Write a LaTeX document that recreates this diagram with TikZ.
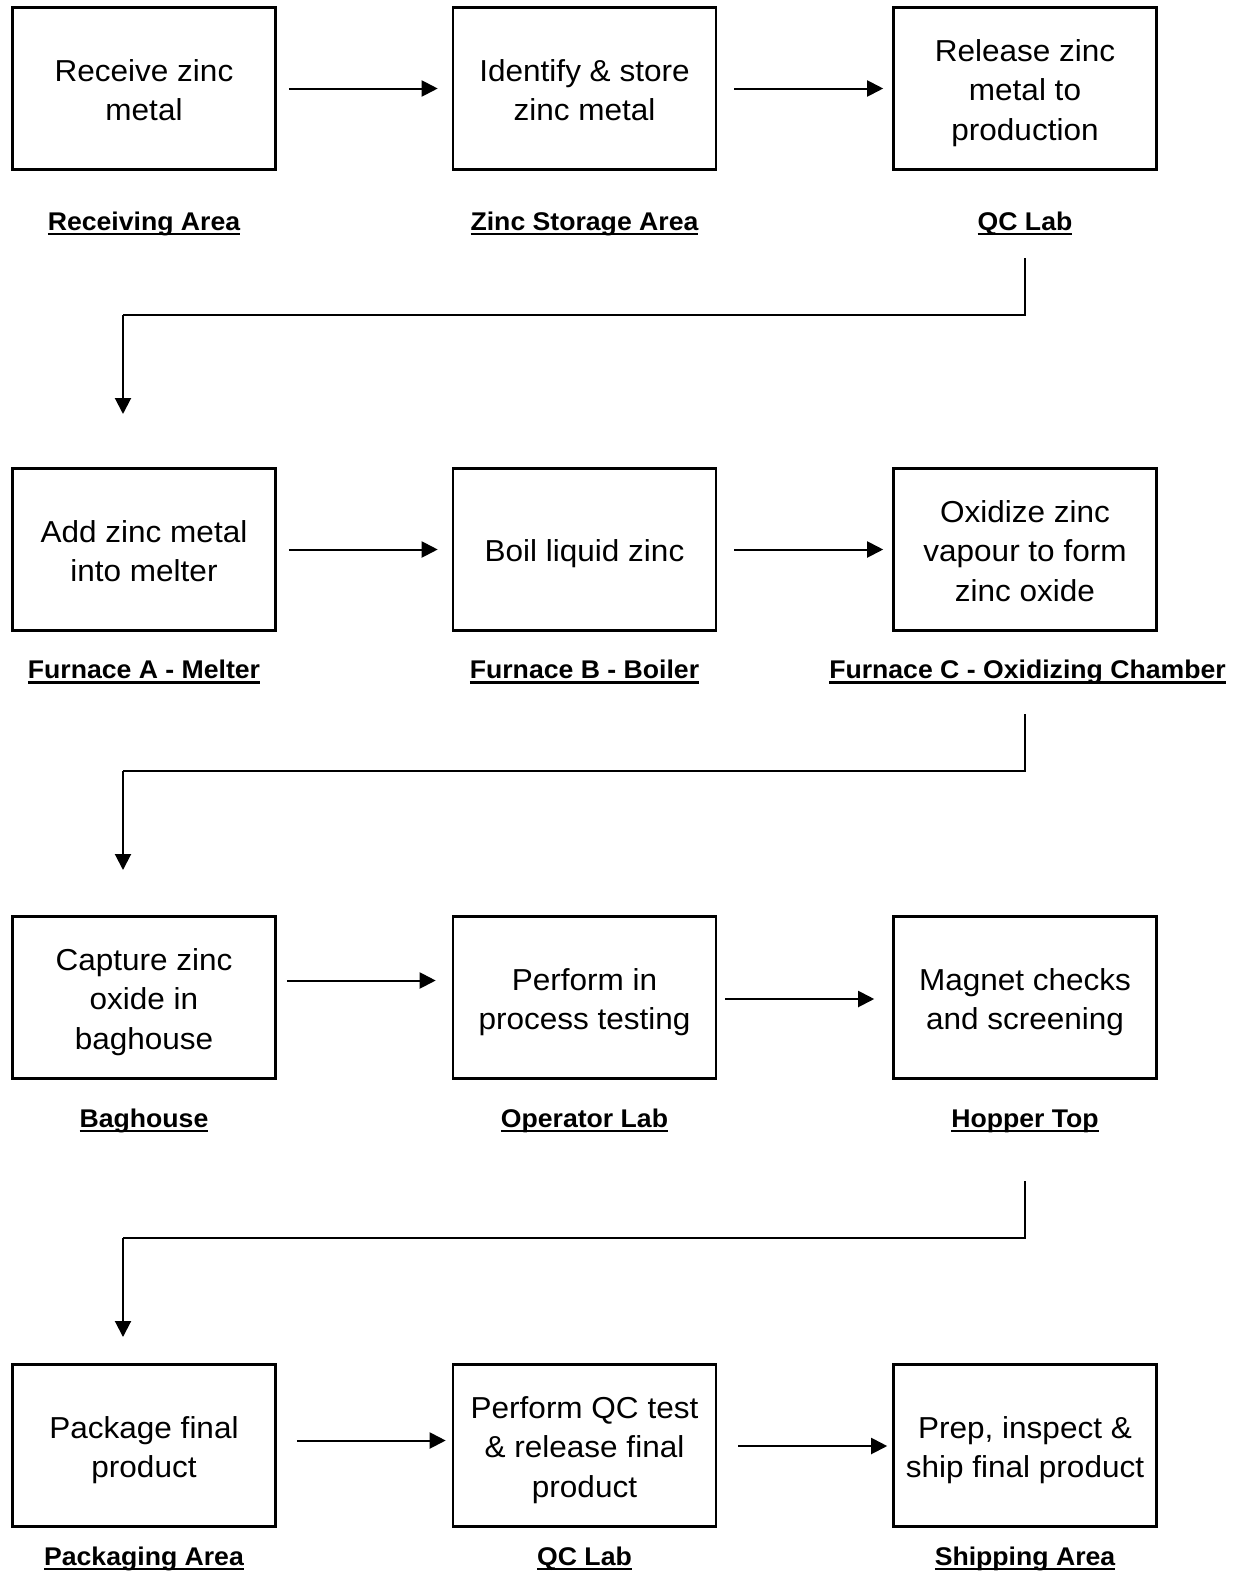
\documentclass[tikz,border=0pt]{standalone}
\usepackage{fontspec}
\setmainfont[FakeStretch=1.04]{Liberation Sans}
\newcommand\ulabel[1]{\setbox0\hbox{#1}\rlap{\rule[-5pt]{\wd0}{2.5pt}}\box0}
\newcommand\boxlines[1]{\raisebox{-4.5pt}[\height][\depth]{\begin{tabular}{@{}c@{}}#1\end{tabular}}}
\usetikzlibrary{arrows.meta}
\begin{document}
\begin{tikzpicture}[x=1pt,y=-1pt,
  stepbox/.style={draw,line width=2.6pt,minimum width=263pt,minimum height=162pt,inner sep=0pt,font=\fontsize{30.3}{39.5}\selectfont},
  area/.style={font=\fontsize{25.6}{30}\selectfont\bfseries,inner sep=0pt,anchor=base},
  flow/.style={line width=2pt,-{Triangle[length=16pt,width=16pt]}},
  link/.style={line width=1.8pt}]
\useasboundingbox (0,0) rectangle (1235,1571);
% row 1
\node[stepbox] (b1) at (144,88.5) {\boxlines{Receive zinc\\metal}};
\node[stepbox] (b2) at (584.5,88.5) {\boxlines{Identify \& store\\zinc metal}};
\node[stepbox] (b3) at (1025,88.5) {\boxlines{Release zinc\\metal to\\production}};
\node[area] (l1) at (144,230) {\ulabel{Receiving Area}};
\node[area] (l2) at (584.5,230) {\ulabel{Zinc Storage Area}};
\node[area] (l3) at (1025,230) {\ulabel{QC Lab}};
% row 2
\node[stepbox] (b4) at (144,549.5) {\boxlines{Add zinc metal\\into melter}};
\node[stepbox] (b5) at (584.5,549.5) {\boxlines{Boil liquid zinc}};
\node[stepbox] (b6) at (1025,549.5) {\boxlines{Oxidize zinc\\vapour to form\\zinc oxide}};
\node[area] (l4) at (144,678.5) {\ulabel{Furnace A - Melter}};
\node[area] (l5) at (584.5,678.5) {\ulabel{Furnace B - Boiler}};
\node[area] (l6) at (1027.5,678.5) {\ulabel{Furnace C - Oxidizing Chamber}};
% row 3
\node[stepbox] (b7) at (144,997.5) {\boxlines{Capture zinc\\oxide in\\baghouse}};
\node[stepbox] (b8) at (584.5,997.5) {\boxlines{Perform in\\process testing}};
\node[stepbox] (b9) at (1025,997.5) {\boxlines{Magnet checks\\and screening}};
\node[area] (l7) at (144,1127) {\ulabel{Baghouse}};
\node[area] (l8) at (584.5,1127) {\ulabel{Operator Lab}};
\node[area] (l9) at (1025,1127) {\ulabel{Hopper Top}};
% row 4
\node[stepbox] (b10) at (144,1445.5) {\boxlines{Package final\\product}};
\node[stepbox] (b11) at (584.5,1445.5) {\boxlines{Perform QC test\\\& release final\\product}};
\node[stepbox] (b12) at (1025,1445.5) {\boxlines{Prep, inspect \&\\ship final product}};
\node[area] (l10) at (144,1565) {\ulabel{Packaging Area}};
\node[area] (l11) at (584.5,1565) {\ulabel{QC Lab}};
\node[area] (l12) at (1025,1565) {\ulabel{Shipping Area}};
% horizontal arrows
\draw[flow] ([xshift=12pt]b1.east) -- ([xshift=-14pt]b2.west);
\draw[flow] ([xshift=17pt]b2.east) -- ([xshift=-9pt]b3.west);
\draw[flow] ([xshift=12pt]b4.east) -- ([xshift=-14pt]b5.west);
\draw[flow] ([xshift=17pt]b5.east) -- ([xshift=-9pt]b6.west);
\draw[flow] ([xshift=10pt,yshift=17pt]b7.east) -- ([xshift=-16pt,yshift=17pt]b8.west);
\draw[flow] ([xshift=8pt,yshift=-1.5pt]b8.east) -- ([xshift=-18pt,yshift=-1.5pt]b9.west);
\draw[flow] ([xshift=20pt,yshift=5pt]b10.east) -- ([xshift=-6pt,yshift=5pt]b11.west);
\draw[flow] ([xshift=21pt,yshift=-0.5pt]b11.east) -- ([xshift=-5pt,yshift=-0.5pt]b12.west);
% connectors between rows
\coordinate (c1s) at (1025,258);
\coordinate (c1e) at (123,414);
\draw[link] (c1s) -- (1025,315) -- (123,315);
\draw[flow] (123,315) -- (c1e);
\coordinate (c2s) at (1025,714);
\coordinate (c2e) at (123,870);
\draw[link] (c2s) -- (1025,771) -- (123,771);
\draw[flow] (123,771) -- (c2e);
\coordinate (c3s) at (1025,1181);
\coordinate (c3e) at (123,1337);
\draw[link] (c3s) -- (1025,1238) -- (123,1238);
\draw[flow] (123,1238) -- (c3e);
\end{tikzpicture}
\end{document}
